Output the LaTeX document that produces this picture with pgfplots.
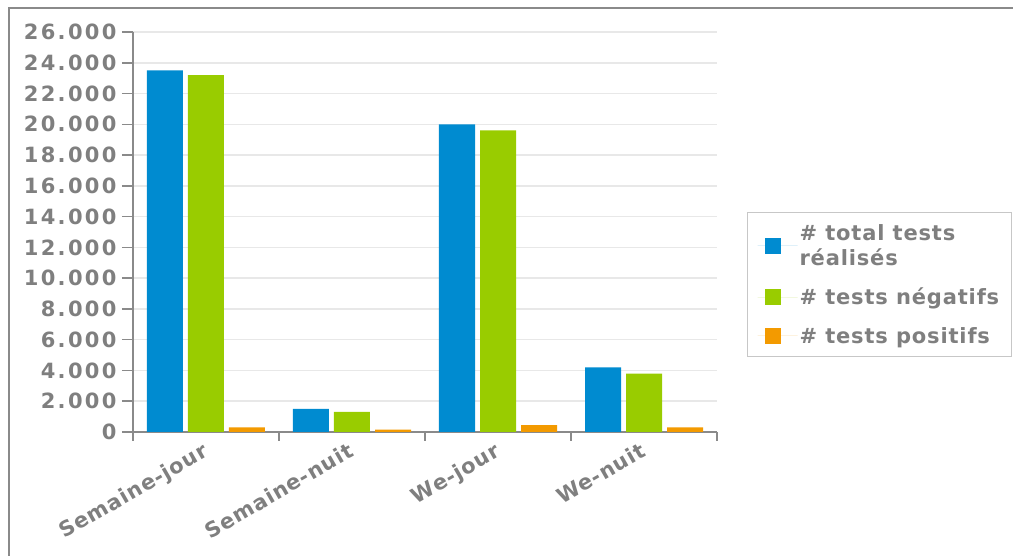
\documentclass[border=0pt]{standalone}
\usepackage{pgfplots}
\pgfplotsset{compat=1.18}
\usepackage{fontspec}
\setmainfont{DejaVu Sans}
\newfontfamily\ytickfam[LetterSpace=11]{DejaVu Sans}
\newfontfamily\xtickfam[LetterSpace=4]{DejaVu Sans}
\newfontfamily\legfam[LetterSpace=4]{DejaVu Sans}
\definecolor{txtgray}{HTML}{7F7F7F}
\definecolor{axgray}{HTML}{8A8A8A}
\definecolor{gridgray}{HTML}{E8E8E8}
\definecolor{cblue}{HTML}{008BD0}
\definecolor{cgreen}{HTML}{99CC00}
\definecolor{corange}{HTML}{F39A00}
\begin{document}
\begin{tikzpicture}
\path[use as bounding box] (0,0) rectangle (1013pt,556pt);
\draw[axgray, line width=1.5pt] (9pt,0pt) -- (9pt,548pt) -- (1013pt,548pt);
\begin{axis}[
  at={(133pt,124pt)}, anchor=south west,
  scale only axis, width=584pt, height=400pt,
  ybar=5pt, bar width=36pt,
  xmin=-0.5, xmax=3.5, ymin=0, ymax=26000,
  axis x line=bottom, axis y line=left,
  axis line style={axgray, line width=1.5pt, -},
  xtick={0,1,2,3},
  xticklabels={Semaine-jour,Semaine-nuit,We-jour,We-nuit},
  major x tick style={draw=none},
  minor xtick={-0.5,0.5,1.5,2.5,3.5},
  minor x tick style={axgray, line width=1.5pt},
  minor tick length=9pt,
  ytick={0,2000,...,26000},
  y tick style={axgray, line width=1.5pt},
  major tick length=11pt,
  tick align=outside,
  ymajorgrids, grid style={gridgray, line width=1.5pt},
  scaled y ticks=false,
  /pgf/number format/.cd, 1000 sep={.}, assume math mode=true, /pgfplots/.cd,
  xticklabel style={font=\xtickfam\fontsize{21}{25}\selectfont\bfseries, text=txtgray,
    rotate=30, anchor=north east, xshift=0pt, yshift=7pt},
  yticklabel style={font=\ytickfam\fontsize{21}{25}\selectfont\bfseries, text=txtgray, xshift=-2pt},
  legend style={at={(1.0514,0.55)}, anchor=north west, draw=black!22, line width=1pt,
    font=\legfam\fontsize{21}{25}\selectfont\bfseries, text=txtgray,
    cells={anchor=west, align=left}, inner xsep=10pt, inner ysep=10pt,
    row sep=17pt},
  legend image code/.code={\path (0pt,0pt) -- (40pt,0pt);
    \fill[#1,draw=none] (7pt,-8pt) rectangle (23pt,8pt);},
  every axis plot/.append style={draw=none},
]
\addplot[fill=cblue] coordinates {(0,23500) (1,1500) (2,20000) (3,4200)};
\addplot[fill=cgreen] coordinates {(0,23200) (1,1300) (2,19600) (3,3800)};
\addplot[fill=corange] coordinates {(0,300) (1,150) (2,450) (3,300)};
\legend{\# total tests\\réalisés, \# tests négatifs, \# tests positifs}
\end{axis}
\end{tikzpicture}
\end{document}
